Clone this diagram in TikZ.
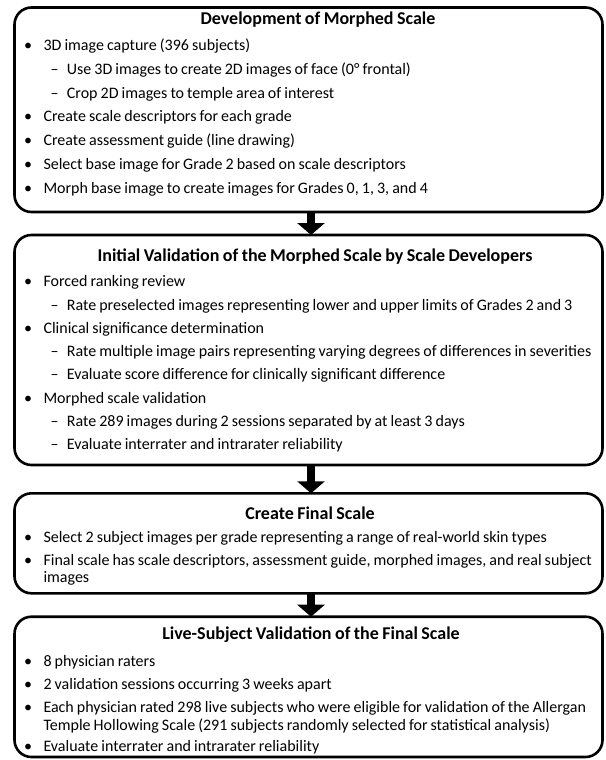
\documentclass[tikz,border=0pt]{standalone}
\usepackage{fontspec}
\setmainfont{Carlito}[WordSpace=0.85]
\usetikzlibrary{arrows.meta}
\newcommand\lvlone[3]{%
  \node[bul] (u#1) at (28,-#2) {•};
  \node[txt] (t#1) at (43.3,-#2) {#3};}
\newcommand\lvltwo[3]{%
  \node[dsh] (u#1) at (50.5,-#2) {–};
  \node[txt] (t#1) at (66.7,-#2) {#3};}
\begin{document}
\begin{tikzpicture}[x=1pt,y=1pt,
  box/.style={draw=black, line width=2.6pt, rounded corners=17pt, inner sep=0pt, outer sep=0pt, fill=white},
  ttl/.style={anchor=base, font=\fontsize{18}{21}\selectfont\bfseries, inner sep=0pt},
  txt/.style={anchor=base west, font=\fontsize{16}{19}\selectfont, inner sep=0pt},
  bul/.style={anchor=base, font=\fontsize{16}{19}\selectfont, inner sep=0pt},
  dsh/.style={anchor=base west, font=\fontsize{16}{19}\selectfont, inner sep=0pt},
  flow/.style={line width=8pt, -{Triangle[width=27pt,length=12pt]}}]
\useasboundingbox (0,0) rectangle (605,-760);
\fill[white] (0,0) rectangle (605,-760);
% boxes
\node[box, minimum width=588pt, minimum height=204.5pt] (b1) at (308.5,-109.75) {};
\node[box, minimum width=588pt, minimum height=230pt] (b2) at (308.5,-350) {};
\node[box, minimum width=588pt, minimum height=100pt] (b3) at (308.5,-543.3) {};
\node[box, minimum width=588pt, minimum height=140.3pt] (b4) at (308.5,-686.85) {};
% arrows
\draw[flow] ([xshift=2.5pt]b1.south) -- ([xshift=2.5pt]b2.north);
\draw[flow] ([xshift=2.5pt]b2.south) -- ([xshift=2.5pt]b3.north);
\draw[flow] ([xshift=2.5pt]b3.south) -- ([xshift=2.5pt]b4.north);
% box 1
\node[ttl] (h1) at (318,-25) {Development of Morphed Scale};
\lvlone{a1}{50.5}{3D image capture (396 subjects)}
\lvltwo{a2}{74.3}{Use 3D images to create 2D images of face (0° frontal)}
\lvltwo{a3}{98.1}{Crop 2D images to temple area of interest}
\lvlone{a4}{121.9}{Create scale descriptors for each grade}
\lvlone{a5}{145.7}{Create assessment guide (line drawing)}
\lvlone{a6}{169.5}{Select base image for Grade 2 based on scale descriptors}
\lvlone{a7}{193.3}{Morph base image to create images for Grades 0, 1, 3, and 4}
% box 2
\node[ttl] (h2) at (315,-261) {Initial Validation of the Morphed Scale by Scale Developers};
\lvlone{c1}{286.7}{Forced ranking review}
\lvltwo{c2}{310}{Rate preselected images representing lower and upper limits of Grades 2 and 3}
\lvlone{c3}{333.3}{Clinical significance determination}
\lvltwo{c4}{356.6}{Rate multiple image pairs representing varying degrees of differences in severities}
\lvltwo{c5}{379.9}{Evaluate score difference for clinically significant difference}
\lvlone{c6}{403.2}{Morphed scale validation}
\lvltwo{c7}{426.5}{Rate 289 images during 2 sessions separated by at least 3 days}
\lvltwo{c8}{449.8}{Evaluate interrater and intrarater reliability}
% box 3
\node[ttl] (h3) at (310,-519) {Create Final Scale};
\lvlone{d1}{542.3}{Select 2 subject images per grade representing a range of real-world skin types}
\lvlone{d2}{565}{Final scale has scale descriptors, assessment guide, morphed images, and real subject}
\node[txt] (d3) at (43.3,-582.3) {images};
% box 4
\node[ttl] (h4) at (311,-639.3) {Live-Subject Validation of the Final Scale};
\lvlone{e1}{666.7}{8 physician raters}
\lvlone{e2}{689.3}{2 validation sessions occurring 3 weeks apart}
\lvlone{e3}{712.3}{Each physician rated 298 live subjects who were eligible for validation of the Allergan}
\node[txt] (e4) at (43.3,-730) {Temple Hollowing Scale (291 subjects randomly selected for statistical analysis)};
\lvlone{e5}{751.7}{Evaluate interrater and intrarater reliability}
\end{tikzpicture}
\end{document}
